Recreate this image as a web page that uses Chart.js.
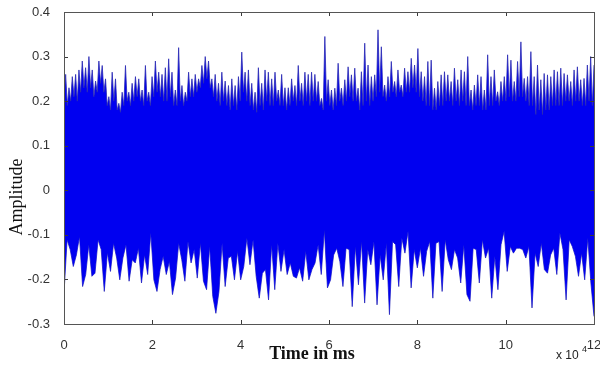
<!DOCTYPE html>
<html>
<head>
<meta charset="utf-8">
<script src="https://cdn.jsdelivr.net/npm/chart.js@4"></script>
<style>
  body { margin: 0; background: #fff; }
  #wrap { width: 600px; height: 365px; }
</style>
</head>
<body>
<div id="wrap"><canvas id="myChart"></canvas></div>
<script>
const spanMs = 120000;
const xTicks = [0, 20000, 40000, 60000, 80000, 100000, 120000];
const yTicks = [-0.3, -0.2, -0.1, 0, 0.1, 0.2, 0.3, 0.4];
const xTitle = "Time in ms";
const yTitle = "Amplitude";

// upper edge of the signal, read left to right (peaks and the dips between them)
const upperEnvelope = [
  0.20, 0.26, 0.19, 0.23, 0.20, 0.255, 0.21, 0.26, 0.20, 0.27, 0.22, 0.29, 0.23, 0.275, 0.22, 0.30, 0.23,
  0.27, 0.21, 0.245, 0.22, 0.29, 0.24, 0.28, 0.22, 0.25, 0.19, 0.21, 0.18, 0.265, 0.20, 0.25, 0.18,
  0.195, 0.175, 0.22, 0.19, 0.28, 0.20, 0.22, 0.19, 0.24, 0.20, 0.255, 0.21, 0.25, 0.20, 0.225, 0.19,
  0.28, 0.20, 0.22, 0.19, 0.255, 0.21, 0.29, 0.22, 0.265, 0.21, 0.26, 0.20, 0.275, 0.20, 0.295, 0.21,
  0.265, 0.19, 0.225, 0.19, 0.32, 0.20, 0.235, 0.19, 0.22, 0.20, 0.265, 0.21, 0.25, 0.21, 0.26, 0.22,
  0.25, 0.23, 0.28, 0.24, 0.30, 0.25, 0.29, 0.23, 0.25, 0.21, 0.26, 0.20, 0.24, 0.19, 0.265, 0.20,
  0.245, 0.19, 0.235, 0.18, 0.25, 0.19, 0.235, 0.18, 0.255, 0.20, 0.31, 0.22, 0.265, 0.20, 0.27, 0.19,
  0.24, 0.18, 0.22, 0.175, 0.275, 0.19, 0.24, 0.18, 0.27, 0.20, 0.265, 0.19, 0.25, 0.19, 0.265, 0.20,
  0.225, 0.19, 0.26, 0.19, 0.23, 0.18, 0.23, 0.19, 0.25, 0.20, 0.235, 0.19, 0.28, 0.20, 0.24, 0.19,
  0.265, 0.20, 0.26, 0.19, 0.265, 0.20, 0.26, 0.20,
  0.244, 0.19, 0.206, 0.18, 0.345, 0.20, 0.248, 0.19, 0.225, 0.18, 0.229, 0.19, 0.285, 0.20, 0.229, 0.19,
  0.248, 0.20, 0.277, 0.21, 0.259, 0.20, 0.274, 0.20, 0.229, 0.18, 0.266, 0.19, 0.33, 0.20, 0.281, 0.19,
  0.255, 0.20, 0.259, 0.21, 0.36, 0.22, 0.322, 0.21, 0.236, 0.20, 0.255, 0.21, 0.289, 0.22, 0.244, 0.21,
  0.27, 0.22, 0.236, 0.21, 0.274, 0.22, 0.266, 0.22, 0.296, 0.23, 0.281, 0.22, 0.318, 0.21, 0.266, 0.20,
  0.255, 0.19, 0.289, 0.19, 0.292, 0.18, 0.229, 0.18, 0.244, 0.19, 0.259, 0.19, 0.266, 0.20, 0.259, 0.20,
  0.244, 0.19, 0.274, 0.20, 0.248, 0.19, 0.27, 0.20, 0.266, 0.19, 0.30, 0.19, 0.225, 0.18, 0.236, 0.19,
  0.259, 0.19, 0.255, 0.18, 0.225, 0.18, 0.304, 0.19, 0.255, 0.19, 0.27, 0.20, 0.221, 0.19, 0.244, 0.20,
  0.255, 0.20, 0.304, 0.21, 0.292, 0.20, 0.244, 0.20, 0.289, 0.21, 0.333, 0.21, 0.251, 0.20, 0.255, 0.19,
  0.311, 0.19, 0.255, 0.17, 0.281, 0.18, 0.248, 0.17, 0.262, 0.18, 0.259, 0.18, 0.255, 0.19, 0.27, 0.19,
  0.266, 0.19, 0.274, 0.19, 0.262, 0.20, 0.259, 0.20, 0.244, 0.19, 0.27, 0.20, 0.277, 0.20, 0.248, 0.19,
  0.251, 0.19, 0.281, 0.20, 0.30, 0.19, 0.281
];

// lower edge of the signal, read left to right
const lowerEnvelope = [
  -0.231, -0.111, -0.133, -0.171, -0.145, -0.104, -0.216, -0.189, -0.122, -0.193, -0.186, -0.111,
  -0.133, -0.227, -0.14, -0.182, -0.119, -0.152, -0.201, -0.152, -0.122, -0.204, -0.156, -0.163,
  -0.13, -0.208, -0.145, -0.189, -0.096, -0.201, -0.227, -0.178, -0.148, -0.189, -0.16, -0.234,
  -0.197, -0.119, -0.156, -0.204, -0.115, -0.163, -0.133, -0.197, -0.119, -0.204, -0.223, -0.126,
  -0.238, -0.276, -0.227, -0.119, -0.216, -0.152, -0.148, -0.201, -0.137, -0.201, -0.171, -0.107,
  -0.167, -0.111, -0.193, -0.242, -0.186, -0.178, -0.246, -0.122, -0.223, -0.119, -0.182, -0.133,
  -0.189, -0.163, -0.193, -0.197, -0.174, -0.204, -0.137, -0.201, -0.178, -0.163, -0.122, -0.189,
  -0.089, -0.219, -0.201, -0.145, -0.13,
  -0.16, -0.216, -0.13, -0.133, -0.261, -0.126, -0.212, -0.115, -0.253, -0.133, -0.167, -0.115,
  -0.257, -0.145, -0.201, -0.119, -0.279, -0.115, -0.122, -0.216, -0.107, -0.141, -0.092, -0.219,
  -0.133, -0.174, -0.13, -0.193, -0.137, -0.115, -0.242, -0.119, -0.115, -0.227, -0.111, -0.156,
  -0.178, -0.133, -0.152, -0.208, -0.122, -0.234, -0.249, -0.13, -0.133, -0.208, -0.111, -0.152,
  -0.13, -0.242, -0.148, -0.223, -0.122, -0.092, -0.182, -0.126, -0.141, -0.13, -0.13, -0.133,
  -0.152, -0.126, -0.264, -0.141, -0.171, -0.119, -0.178, -0.186, -0.145, -0.13, -0.189, -0.096,
  -0.133, -0.246, -0.111, -0.126, -0.148, -0.193, -0.141, -0.201, -0.107, -0.208, -0.283
];

function toPoints(values) {
  return values.map((v, i) => ({ x: i * spanMs / (values.length - 1), y: v }));
}

// inward tick marks, box frame, axis titles and the "x 10^4" exponent
const matlabFrame = {
  id: "matlabFrame",
  afterDatasetsDraw(chart) {
    const { ctx, chartArea: a, scales } = chart;
    const len = 4;
    ctx.save();
    ctx.strokeStyle = "#3a3a3a";
    ctx.lineWidth = 1;
    ctx.beginPath();
    xTicks.forEach((t) => {
      const px = Math.round(scales.x.getPixelForValue(t)) + 0.5;
      ctx.moveTo(px, a.bottom); ctx.lineTo(px, a.bottom - len);
      ctx.moveTo(px, a.top); ctx.lineTo(px, a.top + len);
    });
    yTicks.forEach((t) => {
      const py = Math.round(scales.y.getPixelForValue(t)) + 0.5;
      ctx.moveTo(a.left, py); ctx.lineTo(a.left + len, py);
      ctx.moveTo(a.right, py); ctx.lineTo(a.right - len, py);
    });
    ctx.stroke();
    ctx.strokeStyle = "#555";
    ctx.strokeRect(Math.round(a.left) + 0.5, Math.round(a.top) + 0.5,
      Math.round(a.right - a.left), Math.round(a.bottom - a.top));

    ctx.fillStyle = "#222";
    ctx.textAlign = "left";
    ctx.textBaseline = "alphabetic";
    ctx.font = "12px 'Liberation Sans', Arial, sans-serif";
    ctx.fillText("x 10", a.right - 38, a.bottom + 35);
    ctx.font = "9px 'Liberation Sans', Arial, sans-serif";
    ctx.fillText("4", a.right - 12, a.bottom + 28);

    ctx.fillStyle = "#111";
    ctx.textAlign = "center";
    ctx.textBaseline = "middle";
    ctx.font = "bold 18px 'Liberation Serif', 'Times New Roman', serif";
    ctx.fillText(xTitle, (a.left + a.right) / 2 - 17, a.bottom + 30);
    ctx.translate(17, (a.top + a.bottom) / 2 + 29);
    ctx.rotate(-Math.PI / 2);
    ctx.font = "18px 'Liberation Serif', 'Times New Roman', serif";
    ctx.fillText(yTitle, 0, 0);
    ctx.restore();
  },
};

const traceStyle = {
  borderColor: "#2a2ab4",
  backgroundColor: "#0000f0",
  borderWidth: 0.8,
  pointRadius: 0,
  tension: 0,
};

const config = {
  type: "line",
  data: {
    datasets: [
      Object.assign({ data: toPoints(upperEnvelope), fill: "+1" }, traceStyle),
      Object.assign({ data: toPoints(lowerEnvelope), fill: false }, traceStyle),
    ],
  },
  options: {
    responsive: true,
    maintainAspectRatio: false,
    animation: false,
    layout: { padding: { top: 12, right: 6, left: 0, bottom: 0 } },
    plugins: {
      legend: { display: false },
      tooltip: { enabled: false },
    },
    scales: {
      x: {
        type: "linear",
        min: 0,
        max: spanMs,
        afterFit: (s) => { s.height = 41; s.paddingLeft = 0; s.paddingRight = 0; },
        afterBuildTicks: (s) => { s.ticks = xTicks.map((v) => ({ value: v })); },
        grid: { display: false },
        border: { display: true, color: "#333" },
        ticks: {
          padding: 6,
          maxRotation: 0,
          color: "#333",
          font: { family: "'Liberation Sans', Arial, sans-serif", size: 13 },
          callback: (v) => String(v / 10000),
        },
      },
      y: {
        min: -0.3,
        max: 0.4,
        afterFit: (s) => { s.width = 64; s.paddingTop = 0; s.paddingBottom = 0; },
        afterBuildTicks: (s) => { s.ticks = yTicks.map((v) => ({ value: v })); },
        grid: { display: false },
        border: { display: true, color: "#333" },
        ticks: {
          padding: 6,
          color: "#333",
          font: { family: "'Liberation Sans', Arial, sans-serif", size: 13 },
          callback: (v) => String(Number(v.toFixed(1))),
        },
      },
    },
  },
  plugins: [matlabFrame],
};

const myChart = new Chart(document.getElementById("myChart"), config);
</script>
</body>
</html>
